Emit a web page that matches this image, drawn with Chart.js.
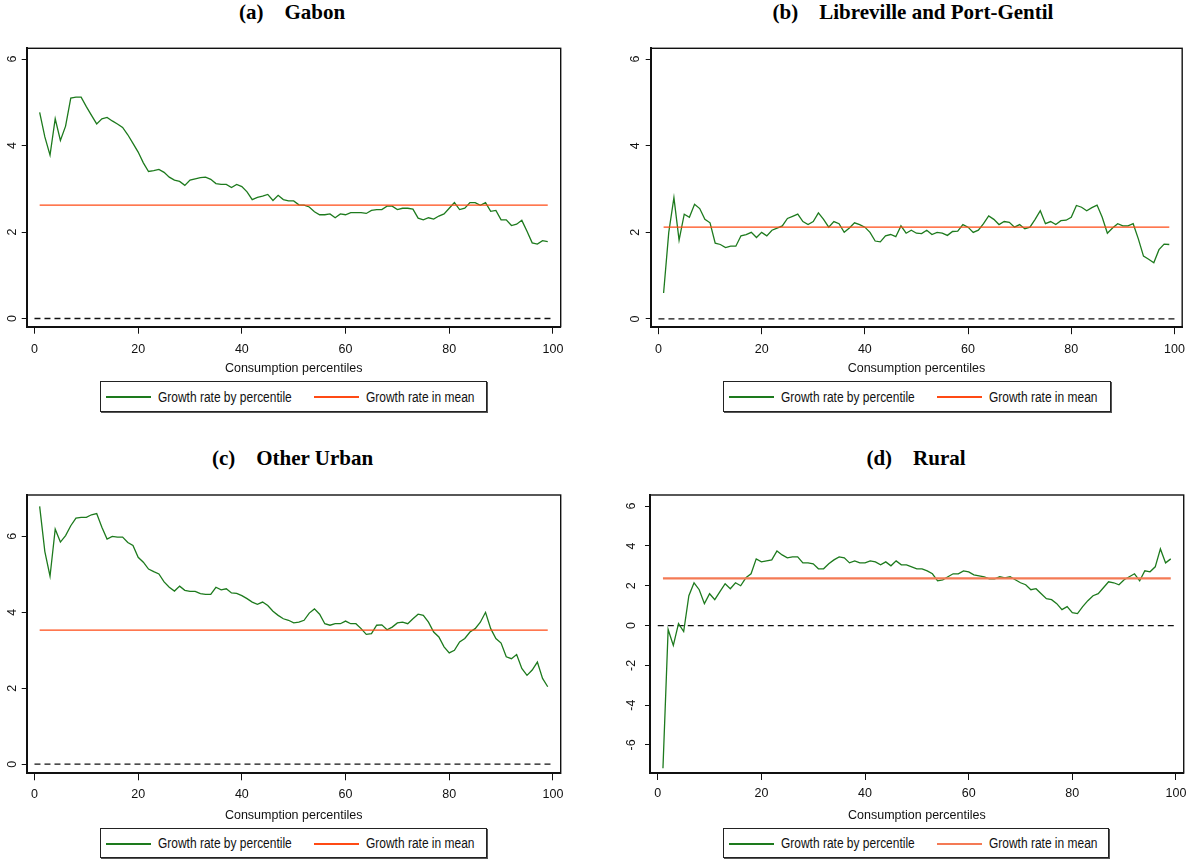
<!DOCTYPE html>
<html>
<head>
<meta charset="utf-8">
<script src="https://cdn.jsdelivr.net/npm/chart.js@4.4.0/dist/chart.umd.min.js"></script>
<style>
  body { margin: 0; background: #fff; width: 1193px; height: 861px; position: relative; overflow: hidden; }
  canvas { position: absolute; }
  .ptitle { position: absolute; font: bold 21px "Liberation Serif", "Times New Roman", serif; white-space: pre; transform: translate(-50%, -50%); color: #000; }
  .legend { position: absolute; border: 1px solid #222; box-shadow: 1px 1px 0 #555; box-sizing: border-box; font: 14px "Liberation Sans", Arial, sans-serif; color: #111; }
  .legend .swatch { position: absolute; width: 45px; height: 2px; top: 14px; }
  .legend .lbl { position: absolute; top: 50%; transform: translateY(-50%) scaleX(0.855); transform-origin: left center; white-space: nowrap; }
</style>
</head>
<body>
<script>
// percentiles on the x axis
const percentiles = [];
for (let p = 1; p <= 99; p++) percentiles.push(p);

// growth incidence curves (percent per year)
const gabonGrowth = [
  4.77, 4.2, 3.78, 4.62, 4.12, 4.45, 5.1, 5.12, 5.12, 4.9,
  4.7, 4.5, 4.62, 4.65, 4.57, 4.5, 4.42, 4.25, 4.05, 3.85,
  3.6, 3.4, 3.42, 3.45, 3.38, 3.27, 3.2, 3.17, 3.08, 3.2,
  3.23, 3.26, 3.27, 3.22, 3.12, 3.1, 3.1, 3.03, 3.1, 3.05,
  2.93, 2.75, 2.8, 2.83, 2.87, 2.73, 2.85, 2.75, 2.72, 2.72,
  2.63, 2.62, 2.58, 2.47, 2.4, 2.4, 2.42, 2.33, 2.42, 2.4,
  2.45, 2.45, 2.45, 2.43, 2.5, 2.52, 2.52, 2.6, 2.6, 2.52,
  2.55, 2.55, 2.53, 2.32, 2.28, 2.33, 2.3, 2.37, 2.42, 2.55,
  2.68, 2.52, 2.55, 2.68, 2.68, 2.62, 2.68, 2.48, 2.5, 2.28,
  2.28, 2.15, 2.18, 2.27, 2.02, 1.75, 1.72, 1.8, 1.78
];
const capitalGrowth = [
  0.6, 2.0, 2.8, 1.82, 2.42, 2.35, 2.65, 2.55, 2.3, 2.22,
  1.75, 1.72, 1.65, 1.68, 1.68, 1.92, 1.95, 2.0, 1.88, 2.0,
  1.92, 2.05, 2.1, 2.15, 2.32, 2.37, 2.42, 2.25, 2.18, 2.25,
  2.45, 2.3, 2.12, 2.25, 2.2, 2.0, 2.1, 2.22, 2.18, 2.12,
  2.0, 1.8, 1.78, 1.92, 1.95, 1.9, 2.15, 1.98, 2.05, 1.98,
  1.97, 2.05, 1.95, 2.0, 1.98, 1.93, 2.02, 2.03, 2.18, 2.12,
  2.0, 2.05, 2.2, 2.38, 2.3, 2.18, 2.25, 2.23, 2.12, 2.18,
  2.08, 2.12, 2.3, 2.5, 2.2, 2.25, 2.18, 2.27, 2.28, 2.35,
  2.62, 2.58, 2.5, 2.57, 2.63, 2.35, 1.98, 2.1, 2.2, 2.15,
  2.15, 2.2, 1.85, 1.45, 1.38, 1.3, 1.6, 1.73, 1.72
];
const otherUrbanGrowth = [
  6.79, 5.6, 4.95, 6.19, 5.85, 6.02, 6.28, 6.48, 6.5, 6.5,
  6.57, 6.6, 6.24, 5.93, 6.0, 5.98, 5.98, 5.84, 5.76, 5.45,
  5.32, 5.14, 5.07, 5.01, 4.8, 4.66, 4.56, 4.69, 4.58, 4.55,
  4.55, 4.49, 4.47, 4.47, 4.66, 4.59, 4.62, 4.51, 4.5, 4.44,
  4.36, 4.27, 4.21, 4.27, 4.18, 4.03, 3.92, 3.83, 3.79, 3.72,
  3.74, 3.79, 3.98, 4.09, 3.95, 3.7, 3.66, 3.7, 3.7, 3.77,
  3.7, 3.7, 3.57, 3.42, 3.44, 3.66, 3.67, 3.54, 3.61, 3.72,
  3.74, 3.7, 3.83, 3.95, 3.92, 3.74, 3.48, 3.35, 3.09, 2.93,
  3.0, 3.22, 3.31, 3.48, 3.57, 3.74, 4.0, 3.57, 3.31, 3.19,
  2.83, 2.78, 2.89, 2.52, 2.34, 2.48, 2.69, 2.26, 2.04
];
const ruralGrowth = [
  -7.17, -0.2, -1.0, 0.1, -0.3, 1.5, 2.15, 1.8, 1.1, 1.6,
  1.3, 1.7, 2.1, 1.85, 2.15, 2.0, 2.4, 2.6, 3.35, 3.2,
  3.25, 3.3, 3.75, 3.55, 3.4, 3.45, 3.45, 3.15, 3.15, 3.1,
  2.85, 2.85, 3.1, 3.3, 3.45, 3.4, 3.15, 3.25, 3.15, 3.15,
  3.25, 3.2, 3.05, 3.2, 3.0, 3.25, 3.05, 3.05, 2.95, 2.85,
  2.85, 2.75, 2.6, 2.25, 2.3, 2.45, 2.6, 2.6, 2.75, 2.7,
  2.55, 2.5, 2.45, 2.35, 2.35, 2.45, 2.4, 2.45, 2.3, 2.15,
  2.05, 1.8, 1.85, 1.6, 1.35, 1.3, 1.1, 0.8, 0.95, 0.65,
  0.6, 0.95, 1.25, 1.5, 1.6, 1.9, 2.2, 2.15, 2.05, 2.3,
  2.45, 2.6, 2.25, 2.75, 2.7, 2.95, 3.85, 3.15, 3.35
];

// growth rate in mean, one per panel
const meanGrowth = [2.62, 2.12, 3.53, 2.37];

const panelTitles = ["(a)    Gabon", "(b)    Libreville and Port-Gentil", "(c)    Other Urban", "(d)    Rural"];
const legendLabels = ["Growth rate by percentile", "Growth rate in mean"];
const xAxisTitle = "Consumption percentiles";
const xTickValues = [0, 20, 40, 60, 80, 100];
const yTicksPositive = [0, 2, 4, 6];
const yTicksRural = [-6, -4, -2, 0, 2, 4, 6];
const zeroLineX = [0, 100];

const GREEN = "#1d7a1d";
const ORANGE = "#ff4a14";
const SANS = '"Liberation Sans", Arial, sans-serif';

// page layout of each panel (plot box in page pixels)
const panels = [
  { series: gabonGrowth, yTicks: yTicksPositive, yMin: -0.19, yMax: 6.25,
    box: { l: 26.7, t: 48.3, r: 560.7, b: 326.7 }, cx: 0, cy: 28, w: 596, h: 350,
    yPad: 5.5, xPad: 8, titleXY: [292, 12], legend: [100, 381, 387, 31], meanColor: ORANGE, meanWidth: 1.3 },
  { series: capitalGrowth, yTicks: yTicksPositive, yMin: -0.19, yMax: 6.25,
    box: { l: 650.7, t: 48.3, r: 1184.7, b: 327.2 }, cx: 600, cy: 28, w: 593, h: 350,
    yPad: 7, xPad: 8, titleXY: [913, 12], legend: [723, 381, 388, 31], meanColor: ORANGE, meanWidth: 1.3 },
  { series: otherUrbanGrowth, yTicks: yTicksPositive, yMin: -0.24, yMax: 7.09,
    box: { l: 26.7, t: 495, r: 560.7, b: 773.3 }, cx: 0, cy: 475, w: 596, h: 350,
    yPad: 6, xPad: 6.5, titleXY: [292.5, 458], legend: [100, 828, 387, 30], meanColor: ORANGE, meanWidth: 1.3 },
  { series: ruralGrowth, yTicks: yTicksRural, yMin: -7.41, yMax: 6.56,
    box: { l: 650, t: 495, r: 1184.7, b: 773 }, cx: 600, cy: 475, w: 593, h: 350,
    yPad: 7.5, xPad: 6.5, titleXY: [916, 458], legend: [723, 828, 386, 30], meanColor: "#f47a55", meanWidth: 2.3 }
];

const frame = {
  id: "frame",
  afterDraw(chart) {
    const { ctx, chartArea: a } = chart;
    ctx.save();
    ctx.strokeStyle = "#111";
    ctx.lineWidth = 1.4;
    ctx.strokeRect(a.left, a.top, a.right - a.left, a.bottom - a.top);
    ctx.restore();
  }
};

function addText(cls, text, x, y) {
  const el = document.createElement("div");
  el.className = cls;
  el.textContent = text;
  el.style.left = x + "px";
  el.style.top = y + "px";
  document.body.appendChild(el);
  return el;
}

function addLegend(pos, meanColor) {
  const box = document.createElement("div");
  box.className = "legend";
  box.style.left = pos[0] + "px";
  box.style.top = pos[1] + "px";
  box.style.width = pos[2] + "px";
  box.style.height = pos[3] + "px";
  const items = [
    { left: 5, color: GREEN, text: legendLabels[0], textLeft: 57 },
    { left: 213, color: meanColor, text: legendLabels[1], textLeft: 265 }
  ];
  items.forEach(it => {
    const sw = document.createElement("div");
    sw.className = "swatch";
    sw.style.left = it.left + "px";
    sw.style.background = it.color;
    box.appendChild(sw);
    const lb = document.createElement("div");
    lb.className = "lbl";
    lb.style.left = it.textLeft + "px";
    lb.textContent = it.text;
    box.appendChild(lb);
  });
  document.body.appendChild(box);
}

panels.forEach((p, i) => {
  addText("ptitle", panelTitles[i], p.titleXY[0], p.titleXY[1]);
  addLegend(p.legend, p.meanColor);

  const canvas = document.createElement("canvas");
  canvas.width = p.w;
  canvas.height = p.h;
  canvas.style.left = p.cx + "px";
  canvas.style.top = p.cy + "px";
  canvas.style.width = p.w + "px";
  canvas.style.height = p.h + "px";
  document.body.appendChild(canvas);

  const curve = percentiles.map((x, k) => ({ x: x, y: p.series[k] }));
  const meanLine = [percentiles[0], percentiles[percentiles.length - 1]].map(x => ({ x: x, y: meanGrowth[i] }));
  const zeroLine = zeroLineX.map(x => ({ x: x, y: 0 }));

  new Chart(canvas.getContext("2d"), {
    type: "line",
    data: {
      datasets: [
        { label: legendLabels[1], data: meanLine, borderColor: p.meanColor, borderWidth: p.meanWidth, pointRadius: 0, order: 1 },
        { label: legendLabels[0], data: curve, borderColor: GREEN, borderWidth: 1.3, pointRadius: 0, tension: 0, order: 2 },
        { label: "zero", data: zeroLine, borderColor: "#111", borderWidth: 1.3, borderDash: [6, 4], pointRadius: 0, order: 3 }
      ]
    },
    options: {
      responsive: false,
      animation: false,
      devicePixelRatio: 1,
      layout: { padding: { left: 0, top: p.box.t - p.cy, right: p.cx + p.w - p.box.r, bottom: 0 } },
      plugins: { legend: { display: false }, title: { display: false }, tooltip: { enabled: false } },
      scales: {
        x: {
          type: "linear",
          min: -1.5,
          max: 101.5,
          afterBuildTicks: s => { s.ticks = xTickValues.map(v => ({ value: v })); },
          afterFit: s => { s.height = p.cy + p.h - p.box.b; },
          grid: { drawOnChartArea: false, drawTicks: true, tickLength: 7, color: "#111" },
          border: { display: true, color: "#111", width: 2 },
          ticks: { padding: p.xPad, color: "#111", font: { family: SANS, size: 12.5 }, maxRotation: 0 },
          title: { display: true, text: xAxisTitle, color: "#111", font: { family: SANS, size: 12.5 }, padding: { top: 0, bottom: 2 } }
        },
        y: {
          type: "linear",
          min: p.yMin,
          max: p.yMax,
          afterBuildTicks: s => { s.ticks = p.yTicks.map(v => ({ value: v })); },
          afterFit: s => { s.width = p.box.l - p.cx; },
          grid: { drawOnChartArea: false, drawTicks: true, tickLength: 5, color: "#111" },
          border: { display: true, color: "#111", width: 2 },
          ticks: { padding: p.yPad, color: "#111", crossAlign: "center", minRotation: 90, maxRotation: 90, font: { family: SANS, size: 12.5 } }
        }
      }
    },
    plugins: [frame]
  });
});
</script>
</body>
</html>
